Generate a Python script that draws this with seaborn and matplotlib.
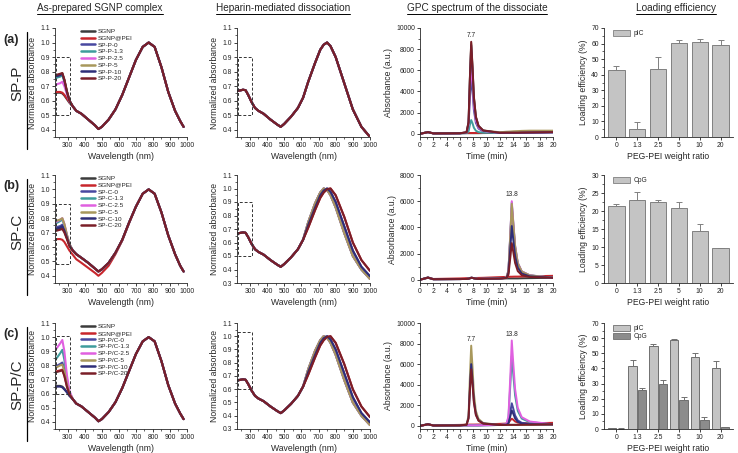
import numpy as np
import pandas as pd
import matplotlib
matplotlib.use("Agg")
import matplotlib.pyplot as plt
import seaborn as sns
from matplotlib.lines import Line2D
from matplotlib.patches import Rectangle, Patch
from matplotlib.ticker import MultipleLocator

# ---------------- data ----------------
LABELS_A = ["SGNP", "SGNP@PEI", "SP-P-0", "SP-P-1.3", "SP-P-2.5", "SP-P-5", "SP-P-10", "SP-P-20"]
LABELS_B = ["SGNP", "SGNP@PEI", "SP-C-0", "SP-C-1.3", "SP-C-2.5", "SP-C-5", "SP-C-10", "SP-C-20"]
LABELS_C = ["SGNP", "SGNP@PEI", "SP-P/C-0", "SP-P/C-1.3", "SP-P/C-2.5", "SP-P/C-5", "SP-P/C-10", "SP-P/C-20"]
COLORS = ["#3c3c3c", "#c8262c", "#4848a0", "#3f9c9c", "#e060e0", "#a8985c", "#2e2e78", "#7a1e28"]

# As-prepared spectra: UV part per curve + visible tail
UV_WL = [220, 240, 255, 268, 280, 295, 310]
TAIL_WL = [330, 350, 380, 420, 460, 480, 500, 540, 580, 620, 660, 700, 740, 775, 810, 850, 890, 930, 960, 980]

UV_A = {
    "SGNP":     [0.650, 0.655, 0.655, 0.650, 0.635, 0.610, 0.585],
    "SGNP@PEI": [0.655, 0.660, 0.660, 0.655, 0.640, 0.615, 0.590],
    "SP-P-0":   [0.760, 0.770, 0.775, 0.785, 0.740, 0.660, 0.600],
    "SP-P-1.3": [0.750, 0.760, 0.765, 0.775, 0.730, 0.655, 0.600],
    "SP-P-2.5": [0.700, 0.715, 0.720, 0.730, 0.700, 0.645, 0.595],
    "SP-P-5":   [0.770, 0.775, 0.780, 0.790, 0.745, 0.665, 0.600],
    "SP-P-10":  [0.765, 0.770, 0.775, 0.785, 0.740, 0.660, 0.600],
    "SP-P-20":  [0.775, 0.780, 0.785, 0.790, 0.745, 0.665, 0.600],
}
TAIL_A = [0.56, 0.53, 0.51, 0.47, 0.43, 0.405, 0.42, 0.47, 0.54, 0.64, 0.76, 0.88, 0.97, 1.0, 0.97, 0.83, 0.66, 0.53, 0.46, 0.42]

UV_B = {
    "SGNP":     [0.720, 0.725, 0.730, 0.735, 0.710, 0.660, 0.610],
    "SGNP@PEI": [0.650, 0.655, 0.655, 0.650, 0.635, 0.605, 0.575],
    "SP-C-0":   [0.730, 0.740, 0.745, 0.755, 0.725, 0.670, 0.615],
    "SP-C-1.3": [0.760, 0.770, 0.780, 0.790, 0.750, 0.680, 0.620],
    "SP-C-2.5": [0.770, 0.780, 0.790, 0.800, 0.760, 0.685, 0.620],
    "SP-C-5":   [0.780, 0.785, 0.790, 0.800, 0.760, 0.685, 0.620],
    "SP-C-10":  [0.720, 0.730, 0.735, 0.745, 0.715, 0.665, 0.610],
    "SP-C-20":  [0.710, 0.715, 0.720, 0.725, 0.700, 0.655, 0.605],
}
TAIL_B = [0.575, 0.55, 0.525, 0.49, 0.45, 0.43, 0.445, 0.49, 0.56, 0.65, 0.77, 0.88, 0.97, 1.0, 0.97, 0.84, 0.68, 0.55, 0.47, 0.43]
TAIL_B_LOW = [0.545, 0.515, 0.49, 0.455, 0.42, 0.40, 0.42, 0.47, 0.55, 0.645, 0.765, 0.88, 0.97, 1.0, 0.97, 0.84, 0.68, 0.55, 0.47, 0.43]

UV_C = {
    "SGNP":       [0.650, 0.655, 0.655, 0.650, 0.635, 0.610, 0.585],
    "SGNP@PEI":   [0.750, 0.760, 0.765, 0.770, 0.730, 0.650, 0.595],
    "SP-P/C-0":   [0.790, 0.800, 0.810, 0.820, 0.770, 0.670, 0.600],
    "SP-P/C-1.3": [0.830, 0.860, 0.885, 0.910, 0.840, 0.700, 0.610],
    "SP-P/C-2.5": [0.900, 0.930, 0.955, 0.980, 0.900, 0.730, 0.620],
    "SP-P/C-5":   [0.780, 0.790, 0.800, 0.805, 0.760, 0.665, 0.600],
    "SP-P/C-10":  [0.645, 0.650, 0.650, 0.645, 0.630, 0.610, 0.585],
    "SP-P/C-20":  [0.750, 0.755, 0.760, 0.765, 0.725, 0.650, 0.595],
}
TAIL_C = [0.56, 0.53, 0.51, 0.47, 0.43, 0.405, 0.42, 0.47, 0.54, 0.64, 0.76, 0.88, 0.97, 1.0, 0.97, 0.83, 0.66, 0.53, 0.46, 0.42]

# Heparin-mediated dissociation spectra
HEP_WL_UV = [220, 240, 260, 275, 290, 310, 330, 350, 380, 420, 460, 480, 500, 540, 580, 610]
HEP_UV = [0.665, 0.670, 0.675, 0.672, 0.640, 0.590, 0.550, 0.530, 0.510, 0.470, 0.435, 0.420, 0.440, 0.490, 0.550, 0.620]
HEP_WL_RED = [640, 680, 710, 730, 750, 770, 800, 850, 900, 950, 1000]
HEP_LEFT = [0.75, 0.89, 0.97, 1.00, 0.99, 0.95, 0.86, 0.67, 0.50, 0.40, 0.33]
HEP_MID = [0.73, 0.86, 0.95, 0.985, 1.00, 0.975, 0.90, 0.72, 0.54, 0.42, 0.35]
HEP_RIGHT = [0.71, 0.84, 0.93, 0.97, 0.995, 1.00, 0.95, 0.79, 0.60, 0.47, 0.39]
HEP_GROUP_A = ["mid"] * 8
HEP_GROUP_B = ["left", "right", "mid", "left", "left", "left", "mid", "right"]
HEP_GROUP_C = ["left", "right", "mid", "left", "left", "left", "mid", "right"]

# GPC chromatograms
GPC_T = [0, 1.2, 2.0, 6.0,
         7.0, 7.3, 7.5, 7.7, 7.9, 8.1, 8.4, 8.8, 9.5,
         12.0,
         13.0, 13.3, 13.6, 13.8, 14.0, 14.3, 14.7, 15.3, 16.5,
         20.0]
GPC_A = {
    "SGNP":     [0, 180, 40, 50, 60, 60, 60, 60, 60, 60, 60, 60, 70, 90, 100, 100, 100, 100, 100, 100, 100, 110, 120, 150],
    "SGNP@PEI": [0, 150, 50, 70, 80, 80, 80, 80, 80, 80, 80, 80, 90, 130, 150, 150, 150, 150, 150, 150, 160, 170, 190, 220],
    "SP-P-0":   [0, 160, 40, 50, 110, 720, 3360, 5500, 4020, 2260, 1050, 500, 220, 90, 100, 100, 100, 100, 100, 100, 100, 110, 120, 150],
    "SP-P-1.3": [0, 160, 40, 50, 70, 220, 840, 1300, 990, 580, 290, 160, 100, 90, 100, 100, 100, 100, 100, 100, 100, 110, 120, 150],
    "SP-P-2.5": [0, 160, 40, 50, 130, 860, 4080, 6700, 4880, 2740, 1270, 600, 260, 90, 100, 100, 100, 100, 100, 100, 100, 110, 120, 150],
    "SP-P-5":   [0, 160, 40, 60, 150, 1090, 5220, 8600, 6250, 3500, 1610, 750, 320, 150, 200, 210, 220, 230, 240, 250, 260, 280, 300, 300],
    "SP-P-10":  [0, 160, 40, 50, 140, 1070, 5100, 8400, 6110, 3420, 1570, 730, 310, 90, 100, 100, 100, 100, 100, 100, 100, 110, 120, 150],
    "SP-P-20":  [0, 160, 40, 50, 150, 1100, 5280, 8700, 6320, 3540, 1630, 760, 320, 100, 110, 110, 110, 110, 110, 110, 110, 120, 130, 160],
}
GPC_B = {
    "SGNP":     [0, 180, 40, 50, 60, 80, 110, 150, 140, 110, 80, 60, 70, 90, 100, 100, 100, 100, 100, 100, 100, 110, 120, 150],
    "SGNP@PEI": [0, 150, 60, 100, 120, 125, 130, 130, 130, 130, 135, 140, 150, 200, 220, 225, 230, 230, 235, 240, 240, 250, 260, 300],
    "SP-C-0":   [0, 160, 40, 50, 60, 80, 110, 150, 140, 110, 80, 60, 70, 90, 150, 640, 3380, 5500, 4200, 2400, 1200, 590, 320, 150],
    "SP-C-1.3": [0, 160, 40, 50, 60, 80, 110, 150, 140, 110, 80, 60, 70, 90, 160, 690, 3640, 5900, 4520, 2580, 1280, 630, 340, 150],
    "SP-C-2.5": [0, 160, 40, 50, 60, 80, 110, 150, 140, 110, 80, 60, 70, 90, 160, 700, 3700, 6000, 4600, 2620, 1300, 640, 340, 150],
    "SP-C-5":   [0, 160, 40, 50, 60, 80, 110, 150, 140, 110, 80, 60, 70, 90, 160, 680, 3580, 5800, 4450, 2540, 1260, 620, 330, 150],
    "SP-C-10":  [0, 160, 40, 50, 60, 80, 110, 150, 140, 110, 80, 60, 70, 90, 140, 510, 2560, 4100, 3180, 1820, 920, 470, 260, 150],
    "SP-C-20":  [0, 160, 40, 50, 60, 80, 110, 150, 140, 110, 80, 60, 70, 90, 130, 380, 1780, 2800, 2200, 1280, 660, 350, 210, 150],
}
GPC_C = {
    "SGNP":       [0, 180, 40, 50, 60, 60, 60, 60, 60, 60, 60, 60, 70, 90, 100, 100, 100, 100, 100, 100, 100, 110, 120, 150],
    "SGNP@PEI":   [0, 150, 60, 100, 120, 125, 130, 130, 130, 130, 135, 140, 150, 200, 230, 300, 560, 700, 610, 430, 320, 270, 260, 300],
    "SP-P/C-0":   [0, 160, 40, 50, 60, 60, 60, 60, 60, 60, 60, 60, 70, 90, 110, 320, 1420, 2200, 1750, 1020, 540, 300, 190, 150],
    "SP-P/C-1.3": [0, 160, 40, 50, 60, 60, 60, 60, 60, 60, 60, 60, 70, 90, 170, 780, 4180, 6800, 5200, 2960, 1460, 710, 370, 150],
    "SP-P/C-2.5": [0, 160, 40, 50, 60, 60, 60, 60, 60, 60, 60, 60, 70, 90, 180, 930, 5080, 8300, 6330, 3590, 1760, 850, 430, 150],
    "SP-P/C-5":   [0, 160, 40, 50, 140, 1000, 4740, 7800, 5680, 3180, 1460, 680, 290, 90, 100, 100, 100, 100, 100, 100, 100, 110, 120, 150],
    "SP-P/C-10":  [0, 160, 40, 50, 120, 780, 3660, 6000, 4380, 2460, 1140, 540, 240, 90, 115, 250, 1000, 1500, 1225, 730, 400, 235, 160, 150],
    "SP-P/C-20":  [0, 160, 40, 50, 110, 720, 3360, 5500, 4020, 2260, 1050, 500, 220, 90, 100, 100, 100, 100, 100, 100, 100, 110, 120, 150],
}

# Loading efficiency
RATIOS = ["0", "1.3", "2.5", "5", "10", "20"]
PIC_A = [43.0, 5.2, 43.5, 60.5, 61.2, 59.0]
PIC_A_ERR = [2.5, 4.5, 8.0, 2.0, 1.5, 3.0]
CPG_B = [21.4, 23.0, 22.6, 20.8, 14.5, 9.6]
CPG_B_ERR = [0.6, 2.4, 0.5, 1.6, 2.0, 0.1]
PIC_C = [0.7, 41.5, 55.0, 59.0, 47.5, 40.5]
PIC_C_ERR = [0.2, 4.0, 1.2, 0.6, 2.5, 4.5]
CPG_C = [0.3, 26.0, 29.5, 19.0, 6.0, 1.3]
CPG_C_ERR = [0.1, 1.2, 3.0, 2.0, 2.0, 0.3]

# ---------------- style ----------------
sns.set_theme(style="ticks")
plt.rcParams['font.family'] = ['Liberation Sans', 'DejaVu Sans']
plt.rcParams['axes.linewidth'] = 0.6

W, H = 738, 453
fig = plt.figure(figsize=(W / 100, H / 100), dpi=100)

COL_L = [55, 237, 420, 604]
COL_R = [187, 370, 553, 733]
ROW_T = [28, 175, 323]
ROW_B = [137, 283, 429]

TICK_FS = 4.9
LAB_FS = 6.2


def make_ax(ci, ri):
    l, r, t, b = COL_L[ci], COL_R[ci], ROW_T[ri], ROW_B[ri]
    return fig.add_axes([l / W, 1 - b / H, (r - l) / W, (b - t) / H])


def style_ax(ax):
    sns.despine(ax=ax)
    ax.tick_params(axis='both', which='major', labelsize=TICK_FS, length=2.2, width=0.6, pad=1.5, colors='#222')
    ax.tick_params(axis='both', which='minor', length=1.2, width=0.5)
    ax.set_facecolor('white')


def spec_df(labels, uv, tails):
    frames = []
    for lab in labels:
        frames.append(pd.DataFrame({"wl": UV_WL + TAIL_WL, "a": uv[lab] + tails[lab], "label": lab}))
    return pd.concat(frames, ignore_index=True)


def hep_df(labels, groups):
    g = {"left": HEP_LEFT, "mid": HEP_MID, "right": HEP_RIGHT}
    frames = []
    for lab, grp in zip(labels, groups):
        frames.append(pd.DataFrame({"wl": HEP_WL_UV + HEP_WL_RED, "a": HEP_UV + g[grp], "label": lab}))
    return pd.concat(frames, ignore_index=True)


def gpc_df(labels, d):
    frames = []
    for lab in labels:
        frames.append(pd.DataFrame({"t": GPC_T, "a": d[lab], "label": lab}))
    return pd.concat(frames, ignore_index=True)


ALL_LABELS = [LABELS_A, LABELS_B, LABELS_C]
SPEC_DF = [
    spec_df(LABELS_A, UV_A, {k: TAIL_A for k in LABELS_A}),
    spec_df(LABELS_B, UV_B, {k: (TAIL_B_LOW if k == "SGNP@PEI" else TAIL_B) for k in LABELS_B}),
    spec_df(LABELS_C, UV_C, {k: TAIL_C for k in LABELS_C}),
]
HEP_DF = [hep_df(LABELS_A, HEP_GROUP_A), hep_df(LABELS_B, HEP_GROUP_B), hep_df(LABELS_C, HEP_GROUP_C)]
GPC_DF = [gpc_df(LABELS_A, GPC_A), gpc_df(LABELS_B, GPC_B), gpc_df(LABELS_C, GPC_C)]

RECT1 = [(0.50, 0.90), (0.48, 0.90), (0.60, 1.01)]
RECT2 = [(0.50, 0.90), (0.50, 0.90), (0.60, 1.03)]
SPEC_YLIM = [(0.35, 1.1), (0.35, 1.1), (0.35, 1.1)]
HEP_YLIM = [(0.35, 1.1), (0.3, 1.1), (0.3, 1.1)]
GPC_YLIM = [(-300, 10000), (-250, 8000), (-300, 10000)]
GPC_PEAKS = [[(7.7, 8700, "7.7")], [(13.8, 6000, "13.8")], [(7.7, 7800, "7.7"), (13.8, 8300, "13.8")]]

for ri in range(3):
    labels = ALL_LABELS[ri]
    pal = dict(zip(labels, COLORS))

    # --- column 1: as-prepared spectra
    ax = make_ax(0, ri)
    sns.lineplot(data=SPEC_DF[ri], x="wl", y="a", hue="label", hue_order=labels, palette=pal,
                 sort=False, estimator=None, lw=1.5, legend=False, ax=ax)
    ax.set_xlim(225, 1000)
    ax.set_ylim(*SPEC_YLIM[ri])
    ax.xaxis.set_major_locator(MultipleLocator(100))
    ax.yaxis.set_major_locator(MultipleLocator(0.1))
    ax.yaxis.set_minor_locator(MultipleLocator(0.05))
    ax.xaxis.set_minor_locator(MultipleLocator(50))
    style_ax(ax)
    ax.set_ylabel("Normalized absorbance", fontsize=LAB_FS, labelpad=2)
    ax.set_xlabel("Wavelength (nm)", fontsize=LAB_FS, labelpad=2)
    y0, y1 = RECT1[ri]
    ax.add_patch(Rectangle((228, y0), 84, y1 - y0, fill=False, ls=(0, (3, 2)), lw=0.7, ec="#333", clip_on=False, zorder=5))
    handles = [Line2D([], [], color=c, lw=1.8) for c in COLORS]
    ax.legend(handles, labels, loc="upper left", bbox_to_anchor=(0.17, 1.03), frameon=False,
              fontsize=4.6, labelspacing=0.2, handlelength=2.2, handletextpad=0.4, borderpad=0.1)

    # --- column 2: heparin dissociation
    ax = make_ax(1, ri)
    sns.lineplot(data=HEP_DF[ri], x="wl", y="a", hue="label", hue_order=labels, palette=pal,
                 sort=False, estimator=None, lw=1.5, legend=False, ax=ax)
    ax.set_xlim(225, 1000)
    ax.set_ylim(*HEP_YLIM[ri])
    ax.xaxis.set_major_locator(MultipleLocator(100))
    ax.yaxis.set_major_locator(MultipleLocator(0.1))
    ax.yaxis.set_minor_locator(MultipleLocator(0.05))
    ax.xaxis.set_minor_locator(MultipleLocator(50))
    style_ax(ax)
    ax.set_ylabel("Normalized absorbance", fontsize=LAB_FS, labelpad=2)
    ax.set_xlabel("Wavelength (nm)", fontsize=LAB_FS, labelpad=2)
    y0, y1 = RECT2[ri]
    ax.add_patch(Rectangle((228, y0), 84, y1 - y0, fill=False, ls=(0, (3, 2)), lw=0.7, ec="#333", clip_on=False, zorder=5))

    # --- column 3: GPC
    ax = make_ax(2, ri)
    sns.lineplot(data=GPC_DF[ri], x="t", y="a", hue="label", hue_order=labels, palette=pal,
                 sort=False, estimator=None, lw=1.4, legend=False, ax=ax)
    ax.set_xlim(0, 20)
    ax.set_ylim(*GPC_YLIM[ri])
    ax.xaxis.set_major_locator(MultipleLocator(2))
    ax.xaxis.set_minor_locator(MultipleLocator(1))
    ax.yaxis.set_major_locator(MultipleLocator(2000))
    ax.yaxis.set_minor_locator(MultipleLocator(1000))
    style_ax(ax)
    ax.set_ylabel("Absorbance (a.u.)", fontsize=LAB_FS, labelpad=2)
    ax.set_xlabel("Time (min)", fontsize=LAB_FS, labelpad=2)
    for (px, py, txt) in GPC_PEAKS[ri]:
        ax.annotate(txt, (px, py), xytext=(0, 2), textcoords="offset points", ha="center", va="bottom", fontsize=4.8)

    # --- column 4: loading efficiency
    ax = make_ax(3, ri)
    if ri < 2:
        means = PIC_A if ri == 0 else CPG_B
        errs = PIC_A_ERR if ri == 0 else CPG_B_ERR
        name = "pIC" if ri == 0 else "CpG"
        dfb = pd.DataFrame({"ratio": RATIOS, "eff": means})
        sns.barplot(data=dfb, x="ratio", y="eff", color="#c4c4c4", saturation=1, edgecolor="#808080",
                    linewidth=0.7, width=0.78, errorbar=None, ax=ax)
        for cont, e in zip(ax.containers, [errs]):
            xs = [p.get_x() + p.get_width() / 2 for p in cont]
            hs = [p.get_height() for p in cont]
            ax.errorbar(xs, hs, yerr=[np.zeros(len(e)), e], fmt="none", ecolor="#808080",
                        elinewidth=0.7, capsize=2.2, capthick=0.7)
        ax.set_ylim(0, 70 if ri == 0 else 30)
        ax.yaxis.set_major_locator(MultipleLocator(10 if ri == 0 else 5))
        ax.yaxis.set_minor_locator(MultipleLocator(5 if ri == 0 else 2.5))
        leg_h = [Patch(fc="#c4c4c4", ec="#808080", lw=0.6)]
        leg_l = [name]
    else:
        dfc = pd.DataFrame({"ratio": RATIOS * 2, "eff": PIC_C + CPG_C,
                            "kind": ["pIC"] * 6 + ["CpG"] * 6})
        sns.barplot(data=dfc, x="ratio", y="eff", hue="kind", hue_order=["pIC", "CpG"],
                    palette={"pIC": "#c4c4c4", "CpG": "#8c8c8c"}, saturation=1, edgecolor="#707070",
                    linewidth=0.7, width=0.9, gap=0.1, errorbar=None, legend=False, ax=ax)
        for cont, e in zip(ax.containers, [PIC_C_ERR, CPG_C_ERR]):
            xs = [p.get_x() + p.get_width() / 2 for p in cont]
            hs = [p.get_height() for p in cont]
            ax.errorbar(xs, hs, yerr=[np.zeros(len(e)), e], fmt="none", ecolor="#707070",
                        elinewidth=0.7, capsize=2.0, capthick=0.7)
        ax.set_ylim(0, 70)
        ax.yaxis.set_major_locator(MultipleLocator(10))
        ax.yaxis.set_minor_locator(MultipleLocator(5))
        leg_h = [Patch(fc="#c4c4c4", ec="#707070", lw=0.6), Patch(fc="#8c8c8c", ec="#707070", lw=0.6)]
        leg_l = ["pIC", "CpG"]
    style_ax(ax)
    ax.set_xlim(-0.6, 5.6)
    ax.set_ylabel("Loading efficiency (%)", fontsize=LAB_FS, labelpad=2)
    ax.set_xlabel("PEG-PEI weight ratio", fontsize=LAB_FS, labelpad=2)
    ax.legend(leg_h, leg_l, loc="upper left", bbox_to_anchor=(0.04, 1.02), frameon=False,
              fontsize=4.8, handlelength=2.6, handleheight=1.0, handletextpad=0.4, labelspacing=0.1, borderpad=0.1)

# ---------------- row labels ----------------
ROW_TAG = ["(a)", "(b)", "(c)"]
ROW_NAME = ["SP-P", "SP-C", "SP-P/C"]
TAG_Y = [40, 186, 334]
NAME_Y = [83, 232, 385]
for ri in range(3):
    fig.text(3 / W, 1 - TAG_Y[ri] / H, ROW_TAG[ri], fontsize=9, fontweight="bold", ha="left", va="center")
    fig.text(17 / W, 1 - NAME_Y[ri] / H, ROW_NAME[ri], fontsize=11, rotation=90, ha="center", va="center")
    fig.add_artist(Line2D([27 / W, 27 / W], [1 - (ROW_T[ri] + 4) / H, 1 - (ROW_B[ri] + 12) / H],
                          color="black", lw=0.9, transform=fig.transFigure))

# ---------------- column titles ----------------
TITLES = ["As-prepared SGNP complex", "Heparin-mediated dissociation", "GPC spectrum of the dissociate", "Loading efficiency"]
TITLE_X = [100, 283, 477, 676]
title_objs = []
for tx, tt in zip(TITLE_X, TITLES):
    title_objs.append(fig.text(tx / W, 1 - 8 / H, tt, fontsize=7.2, ha="center", va="center"))

fig.canvas.draw()
rend = fig.canvas.get_renderer()
for t in title_objs:
    bb = t.get_window_extent(renderer=rend)
    x0, x1 = bb.x0 / W, bb.x1 / W
    yl = (bb.y0 - 1.0) / H
    fig.add_artist(Line2D([x0, x1], [yl, yl], color="black", lw=0.7, transform=fig.transFigure))

fig.savefig("out.png", dpi=100, facecolor="white")
